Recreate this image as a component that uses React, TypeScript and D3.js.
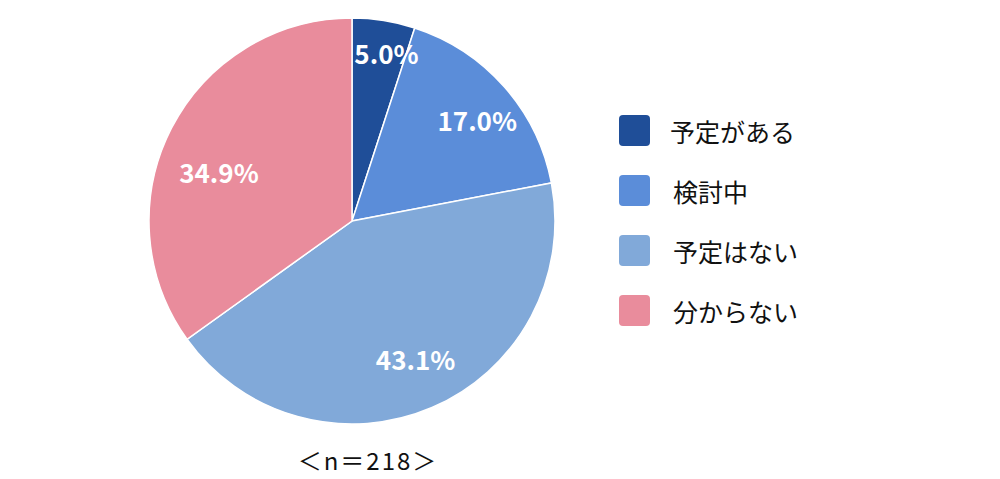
// @ts-nocheck
import React from 'react'
import * as d3 from 'd3'

const categories = ['予定がある', '検討中', '予定はない', '分からない']
const values = [5.0, 17.0, 43.1, 34.9]
const colorList = ['#1f4e98', '#5b8dd9', '#81a9d9', '#e98c9c']
const sampleLabel = '＜n＝218＞'

const width = 1000
const height = 479
const cx = 352
const cy = 221
const radius = 203

// small nudges from the centroid, like the original's best-fit labels
const labelNudge = [
  [10, -14],
  [8, 2],
  [2, -6],
  [6, 22],
]

const color = d3.scaleOrdinal().domain(categories).range(colorList)
const fmt = d3.format('.1f')

const App = () => {
  const data = categories.map((c, i) => ({ name: c, value: values[i] }))
  const pie = d3.pie().sort(null).value((d) => d.value)
  const arcs = pie(data)
  const arc = d3.arc().innerRadius(0).outerRadius(radius)
  const labelArc = d3.arc().innerRadius(radius * 0.77).outerRadius(radius * 0.77)

  const legendY = d3.scaleBand().domain(categories).range([100, 340]).paddingInner(0)

  return (
    <svg
      width={width}
      height={height}
      style={{ position: 'absolute', left: 0, top: 0, background: '#fff' }}
      fontFamily="'Noto Sans CJK JP', 'Noto Sans', sans-serif"
    >
      <g transform={`translate(${cx}, ${cy})`}>
        {arcs.map((a) => (
          <path key={a.data.name} d={arc(a)} fill={color(a.data.name)} stroke="#fff" strokeWidth={1.5} />
        ))}
        {arcs.map((a, i) => {
          const [x, y] = labelArc.centroid(a)
          return (
            <text
              key={a.data.name}
              x={x + labelNudge[i][0]}
              y={y + labelNudge[i][1]}
              textAnchor="middle"
              dominantBaseline="central"
              fill="#fff"
              fontWeight="bold"
              fontSize="26"
            >
              {fmt(a.data.value)}%
            </text>
          )
        })}
      </g>
      <g>
        {categories.map((c) => {
          const y = legendY(c) + legendY.bandwidth() / 2
          return (
            <g key={c} transform={`translate(619, ${y})`}>
              <rect x={0} y={-15} width={31} height={31} rx={4} fill={color(c)} />
              <text x={c === categories[0] ? 51 : 54} y={1} dominantBaseline="central" fontSize="25" fill="#111">
                {c}
              </text>
            </g>
          )
        })}
      </g>
      <text
        x={368}
        y={459}
        textAnchor="middle"
        dominantBaseline="central"
        fontSize="24"
        letterSpacing="2"
        fill="#111"
      >
        {sampleLabel}
      </text>
    </svg>
  )
}

export default App
